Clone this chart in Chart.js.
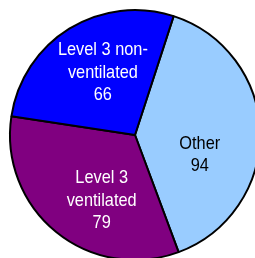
<!DOCTYPE html>
<html>
<head>
<meta charset="utf-8">
<script src="https://cdn.jsdelivr.net/npm/chart.js@4/dist/chart.umd.min.js"></script>
<style>
    html, body { margin: 0; padding: 0; background: #fff; overflow: hidden; }
    #wrap { position: absolute; left: 0; top: 0; width: 270px; height: 270px; }
</style>
</head>
<body>
<div id="wrap"><canvas id="pieChart"></canvas></div>
<script>
// Slice data (clockwise from the top-right boundary)
const categories = ["Other", "Level 3 ventilated", "Level 3 non-ventilated"];
const labelLines = [["Other"], ["Level 3", "ventilated"], ["Level 3 non-", "ventilated"]];
const values = [94, 79, 66];
const sliceColors = ["#99CCFF", "#800080", "#0000FF"];
const textColors = ["#000000", "#FFFFFF", "#FFFFFF"];

// Draw the labels inside each slice, condensed like the original
const sliceLabels = {
    id: 'sliceLabels',
    afterDatasetsDraw(chart, args, opts) {
        const ctx = chart.ctx;
        const meta = chart.getDatasetMeta(0);
        meta.data.forEach(function (arc, i) {
            const p = arc.getProps(['x', 'y', 'startAngle', 'endAngle', 'outerRadius'], true);
            const mid = (p.startAngle + p.endAngle) / 2;
            const nudge = opts.nudges[i];
            const cx = p.x + Math.cos(mid) * p.outerRadius * 0.55 + nudge[0];
            const cy = p.y + Math.sin(mid) * p.outerRadius * 0.55 + nudge[1];
            const lines = labelLines[i].concat([String(values[i])]);
            const lh = opts.lineHeight;
            ctx.save();
            ctx.font = opts.font;
            ctx.fillStyle = textColors[i];
            ctx.textAlign = 'center';
            ctx.textBaseline = 'middle';
            const top = cy - (lines.length - 1) * lh / 2;
            lines.forEach(function (t, k) {
                ctx.save();
                ctx.translate(cx, top + k * lh);
                ctx.scale(0.86, 1);
                ctx.fillText(t, 0, 0);
                ctx.restore();
            });
            ctx.restore();
        });
    }
};

new Chart(document.getElementById('pieChart').getContext('2d'), {
    type: 'pie',
    data: {
        labels: categories,
        datasets: [{
            data: values,
            backgroundColor: sliceColors,
            borderColor: '#000000',
            borderWidth: 2
        }]
    },
    options: {
        responsive: true,
        maintainAspectRatio: false,
        animation: false,
        rotation: 18,
        layout: { padding: 9 },
        plugins: {
            legend: { display: false },
            tooltip: { enabled: false },
            sliceLabels: {
                font: '19px "Liberation Sans", Arial, sans-serif',
                lineHeight: 22.5,
                nudges: [[-4, 21], [10, 12], [4, -4]]
            }
        }
    },
    plugins: [sliceLabels]
});
</script>
</body>
</html>
